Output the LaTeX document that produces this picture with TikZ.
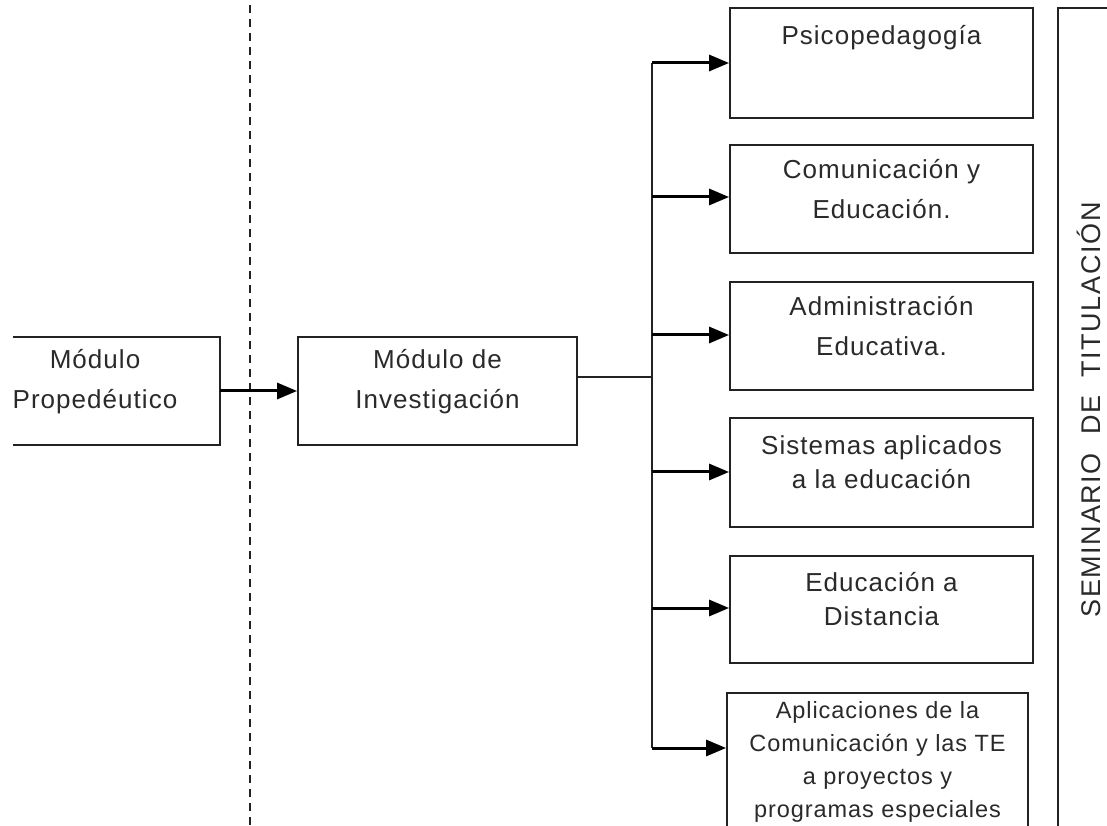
\documentclass[tikz,border=0pt]{standalone}
\usepackage{fontspec}
\setmainfont{Liberation Sans}[LetterSpace=4.0]
\usetikzlibrary{arrows.meta}
\definecolor{txt}{HTML}{2A2A2A}
\definecolor{ln}{HTML}{222222}
\tikzset{
  boxstyle/.style={draw=ln, line width=1.8pt, rectangle, inner sep=0pt, align=center,
    text=txt, font={\fontsize{26}{40}\selectfont}, text depth=22pt},
  plainbox/.style={rectangle, inner sep=0pt, align=center, text=txt, font={\fontsize{26}{40}\selectfont}},
  arr/.style={line width=3pt, draw=black, -{Triangle[length=20pt,width=16pt]}},
  conn/.style={line width=1.4pt, draw=ln},
  divider/.style={line width=1.5pt, draw=ln, dash pattern=on 8pt off 6pt}
}
\begin{document}
\begin{tikzpicture}[x=1pt,y=1pt]
\useasboundingbox (0,0) rectangle (1107,825);
\clip (0,0) rectangle (1107,825);
\fill[white] (0,0) rectangle (1107,825);

% dashed divider
\coordinate (dtop) at (250,820);
\coordinate (dbot) at (250,0);
\draw[divider] (dtop) -- (dbot);

% left modules
\node[plainbox, minimum width=250pt, minimum height=108pt, text depth=24pt] (prop) at (95,434) {Módulo\\Propedéutico};
\draw[line width=1.8pt, draw=ln] ([xshift=43pt]prop.north west) -| (prop.south east) -- ([xshift=43pt]prop.south west);
\node[boxstyle, minimum width=279pt, minimum height=108pt, text depth=24pt] (inv) at (437.5,434) {Módulo de\\Investigación};
\draw[arr] (prop.east) -- (inv.west);

% bus
\coordinate (j) at (652,448);
\coordinate (bt) at (652,762);
\coordinate (bb) at (652,77);
\draw[conn] ([yshift=14pt]inv.east) -- (j);
\draw[conn] (bt) -- (bb);

% right boxes
\node[boxstyle, minimum width=303pt, minimum height=110pt] (b1) at (881.5,762) {};
\node[plainbox, anchor=north] (b1t) at ([yshift=-18pt]b1.north) {Psicopedagogía};
\node[boxstyle, minimum width=303pt, minimum height=108pt, text depth=20pt] (b2) at (881.5,626) {Comunicación y\\Educación.};
\node[boxstyle, minimum width=303pt, minimum height=108pt, text depth=20pt] (b3) at (881.5,489) {Administración\\Educativa.};
\node[boxstyle, minimum width=303pt, minimum height=109pt, font={\fontsize{26}{34}\selectfont}, text depth=20pt] (b4) at (881.5,352.5) {Sistemas aplicados\\a la educación};
\node[boxstyle, minimum width=303pt, minimum height=107pt, font={\fontsize{26}{34}\selectfont}, text depth=22pt] (b5) at (881.5,215.5) {Educación a\\Distancia};
\node[boxstyle, minimum width=301pt, minimum height=150pt, font={\fontsize{23.5}{33}\selectfont}, text depth=17pt] (b6) at (877.5,57) {Aplicaciones de la\\Comunicación y las TE\\a proyectos y\\programas especiales};

\draw[arr] (bt) -- (b1.west);
\coordinate (t2) at (652,628);
\coordinate (t3) at (652,490);
\coordinate (t4) at (652,353);
\coordinate (t5) at (652,217);
\draw[arr] (t2) -- (t2 -| b2.west);
\draw[arr] (t3) -- (t3 -| b3.west);
\draw[arr] (t4) -- (t4 -| b4.west);
\draw[arr] (t5) -- (t5 -| b5.west);
\draw[arr] (bb) -- (bb -| b6.west);

% seminario
\node[draw=ln, line width=1.8pt, rectangle, minimum width=80pt, minimum height=840pt, inner sep=0pt] (sem) at (1098,397) {};
\node[text=txt, rotate=90, inner sep=0pt, font={\fontspec{Liberation Sans}[LetterSpace=6.0]\fontsize{27}{30}\selectfont}] (semt) at (1089,415) {SEMINARIO\ \ DE\ \ TITULACIÓN};
\end{tikzpicture}
\end{document}
